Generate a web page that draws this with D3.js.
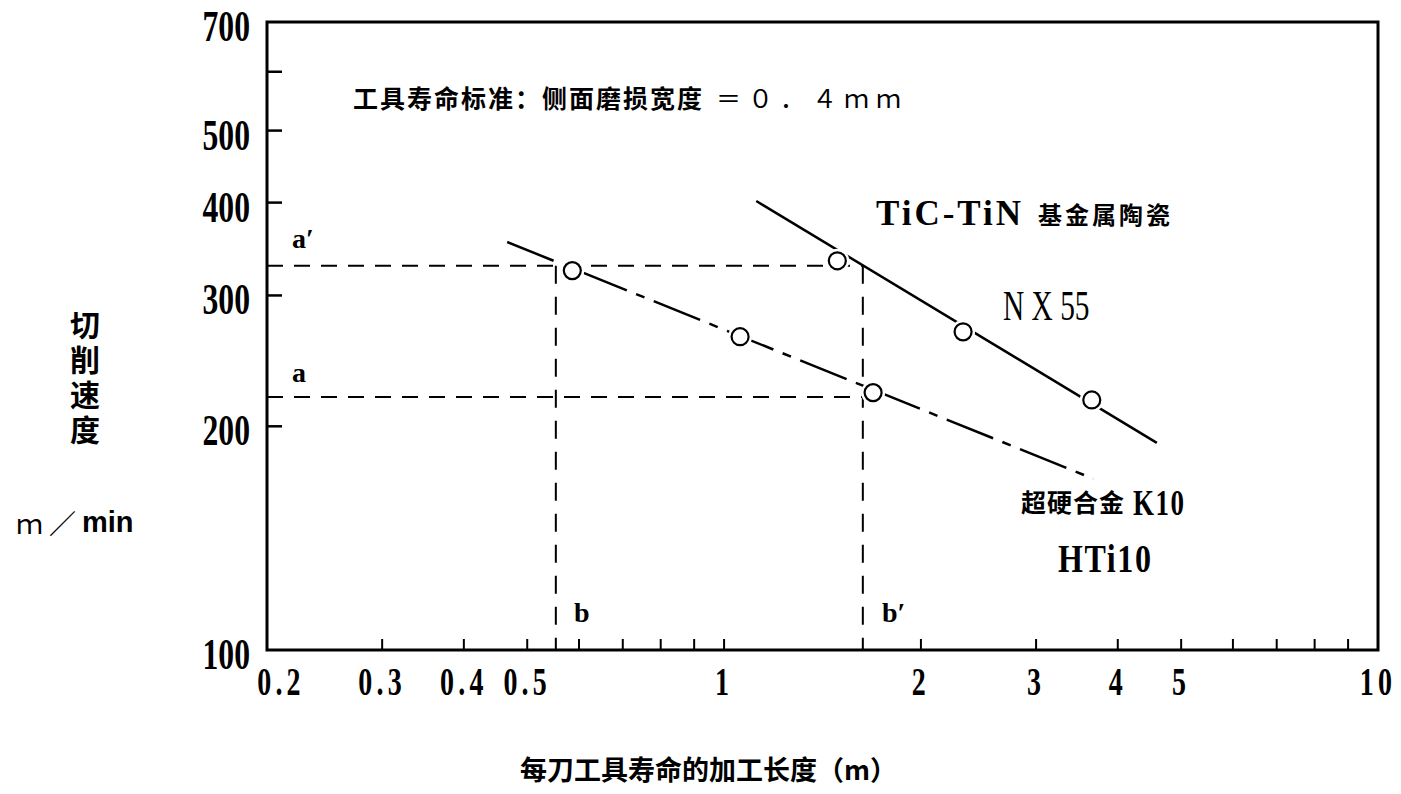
<!DOCTYPE html>
<html>
<head>
<meta charset="utf-8">
<script src="https://cdn.jsdelivr.net/npm/d3@7"></script>
<style>
    body { margin: 0; background: #fff; }
</style>
</head>
<body>
<div id="chart"></div>
<script>
"use strict";

// axis ticks
const xTickValues = [0.2, 0.3, 0.4, 0.5, 1, 2, 3, 4, 5, 10];
const xTickLabels = ["0.2", "0.3", "0.4", "0.5", "1", "2", "3", "4", "5", "10"];
const xMinorTicks = [0.3, 0.4, 0.5, 0.6, 0.7, 0.8, 0.9, 1, 2, 3, 4, 5, 6, 7, 8, 9];
const yTickValues = [100, 200, 300, 400, 500, 700];
const yTickLabels = ["100", "200", "300", "400", "500", "700"];
const yMinorTicks = [200, 300, 400, 500, 600];

// TiC-TiN cermet NX55 (solid)
const cermetLineLength = [1.12, 4.59];
const cermetLineSpeed = [402, 190];
const cermetLength = [1.49, 2.32, 3.65];
const cermetSpeed = [334, 268, 217];

// carbide K10 HTi10 (dash-dot)
const carbideLineLength = [0.466, 3.67];
const carbideLineSpeed = [354, 170];
const carbideLength = [0.586, 1.058, 1.69];
const carbideSpeed = [324, 264, 222];

// reference lines a, a', b, b'
const speedA1 = 329;
const speedA = 219;
const lengthB = 0.553;
const lengthB1 = 1.63;

(function () {
    const W = 1401, H = 794;
    const left = 267, right = 1378, top = 22, bottom = 650;
    const serif = "'Liberation Serif', 'DejaVu Serif', serif";
    const cjk = "'Noto Sans CJK SC', 'Noto Sans', sans-serif";

    const svg = d3.select("#chart").append("svg")
        .attr("width", W).attr("height", H);

    const x = d3.scaleLog().domain([0.2, 10]).range([left, right]);
    const y = d3.scaleLog().domain([100, 700]).range([bottom, top]);

    // frame
    svg.append("rect")
        .attr("x", left).attr("y", top)
        .attr("width", right - left).attr("height", bottom - top)
        .attr("fill", "none").attr("stroke", "#000").attr("stroke-width", 3);

    // inward ticks
    svg.append("g").selectAll("line").data(xMinorTicks).enter().append("line")
        .attr("x1", d => x(d)).attr("x2", d => x(d))
        .attr("y1", bottom).attr("y2", bottom - 11)
        .attr("stroke", "#000").attr("stroke-width", 2);

    svg.append("g").selectAll("line").data(yMinorTicks).enter().append("line")
        .attr("x1", left).attr("x2", left + 15)
        .attr("y1", d => y(d)).attr("y2", d => y(d))
        .attr("stroke", "#000").attr("stroke-width", 2.5);

    // tick labels (condensed bold serif)
    svg.append("g").selectAll("text").data(xTickValues).enter().append("text")
        .attr("transform", (d, i) => `translate(${x(d) + (i === 0 ? 14 : 0)},${695}) scale(0.7,1)`)
        .attr("text-anchor", "middle")
        .attr("font-family", serif).attr("font-weight", "bold")
        .attr("font-size", 40).attr("letter-spacing", 6)
        .text((d, i) => xTickLabels[i]);

    svg.append("g").selectAll("text").data(yTickValues).enter().append("text")
        .attr("transform", d => `translate(250,${y(d) + 19}) scale(0.72,1)`)
        .attr("text-anchor", "end")
        .attr("font-family", serif).attr("font-weight", "bold")
        .attr("font-size", 44)
        .text((d, i) => yTickLabels[i]);

    // reference dashed lines
    const refLines = [
        [[0.2, speedA1], [lengthB1, speedA1]],
        [[0.2, speedA], [carbideLength[2], speedA]],
        [[lengthB, speedA1], [lengthB, 100]],
        [[lengthB1, speedA1], [lengthB1, 100]]
    ];
    const line = d3.line().x(d => x(d[0])).y(d => y(d[1]));
    svg.append("g").selectAll("path").data(refLines).enter().append("path")
        .attr("d", line)
        .attr("fill", "none").attr("stroke", "#000").attr("stroke-width", 2)
        .attr("stroke-dasharray", (d, i) => i < 2 ? "16,11" : "18,13");

    // tool life lines
    svg.append("path")
        .attr("d", line(cermetLineLength.map((d, i) => [d, cermetLineSpeed[i]])))
        .attr("fill", "none").attr("stroke", "#000").attr("stroke-width", 2.5);

    svg.append("path")
        .attr("d", line(carbideLineLength.map((d, i) => [d, carbideLineSpeed[i]])))
        .attr("fill", "none").attr("stroke", "#000").attr("stroke-width", 2.5)
        .attr("stroke-dasharray", "50,10,9,10");

    // measured points
    const points = cermetLength.map((d, i) => [d, cermetSpeed[i]])
        .concat(carbideLength.map((d, i) => [d, carbideSpeed[i]]));
    svg.append("g").selectAll("circle").data(points).enter().append("circle")
        .attr("cx", d => x(d[0])).attr("cy", d => y(d[1])).attr("r", 12)
        .attr("fill", "#fff");
    svg.append("g").selectAll("circle").data(points).enter().append("circle")
        .attr("cx", d => x(d[0])).attr("cy", d => y(d[1])).attr("r", 8.5)
        .attr("fill", "#fff").attr("stroke", "#000").attr("stroke-width", 2.2);

    // letter markers
    const marks = [
        { t: "a′", x: 292, y: 248 },
        { t: "a", x: 292, y: 382 },
        { t: "b", x: 574, y: 622 },
        { t: "b′", x: 882, y: 622 }
    ];
    svg.append("g").selectAll("text").data(marks).enter().append("text")
        .attr("x", d => d.x).attr("y", d => d.y)
        .attr("font-family", serif).attr("font-weight", "bold").attr("font-size", 28)
        .text(d => d.t);

    // title note
    svg.append("text")
        .attr("x", 353).attr("y", 97).attr("dominant-baseline", "central")
        .attr("font-family", cjk).attr("font-weight", "bold")
        .attr("font-size", 25).attr("letter-spacing", 2)
        .text("工具寿命标准：侧面磨损宽度");
    svg.append("text")
        .attr("x", 716).attr("y", 97).attr("dominant-baseline", "central")
        .attr("font-family", cjk)
        .attr("font-size", 25).attr("letter-spacing", 7)
        .text("＝０．４ｍｍ");

    // series labels
    svg.append("text")
        .attr("x", 876).attr("y", 225)
        .attr("font-family", serif).attr("font-weight", "bold")
        .attr("font-size", 35).attr("letter-spacing", 3)
        .text("TiC-TiN");
    svg.append("text")
        .attr("x", 1038).attr("y", 213).attr("dominant-baseline", "central")
        .attr("font-family", cjk).attr("font-weight", "bold")
        .attr("font-size", 24).attr("letter-spacing", 3)
        .text("基金属陶瓷");
    svg.append("text")
        .attr("transform", "translate(1003,320) scale(0.7,1)")
        .attr("font-family", serif).attr("font-size", 42)
        .text("N X 55");
    svg.append("text")
        .attr("x", 1021).attr("y", 501).attr("dominant-baseline", "central")
        .attr("font-family", cjk).attr("font-weight", "bold")
        .attr("font-size", 25).attr("letter-spacing", 1)
        .text("超硬合金");
    svg.append("text")
        .attr("transform", "translate(1133,515) scale(0.75,1)")
        .attr("font-family", serif).attr("font-weight", "bold").attr("font-size", 36)
        .attr("letter-spacing", 2)
        .text("K10");
    svg.append("text")
        .attr("transform", "translate(1058,572) scale(0.8,1)")
        .attr("font-family", serif).attr("font-weight", "bold").attr("font-size", 40)
        .attr("letter-spacing", 2)
        .text("HTi10");

    // axis titles
    svg.append("text")
        .attr("x", 85).attr("y", 310)
        .attr("writing-mode", "vertical-rl")
        .attr("font-family", cjk).attr("font-weight", "bold")
        .attr("font-size", 30).attr("letter-spacing", 5)
        .text("切削速度");

    const unit = svg.append("text")
        .attr("x", 16).attr("y", 522).attr("dominant-baseline", "central")
        .attr("font-family", cjk).attr("font-size", 27);
    unit.append("tspan").attr("letter-spacing", 6).text("ｍ／");
    unit.append("tspan").attr("font-weight", "bold")
        .attr("font-family", "'Liberation Sans', Arial, sans-serif")
        .attr("font-size", 29).text("min");

    svg.append("text")
        .attr("x", 520).attr("y", 768).attr("dominant-baseline", "central")
        .attr("font-family", cjk).attr("font-weight", "bold").attr("font-size", 27)
        .text("每刀工具寿命的加工长度（m）");
})();
</script>
</body>
</html>
